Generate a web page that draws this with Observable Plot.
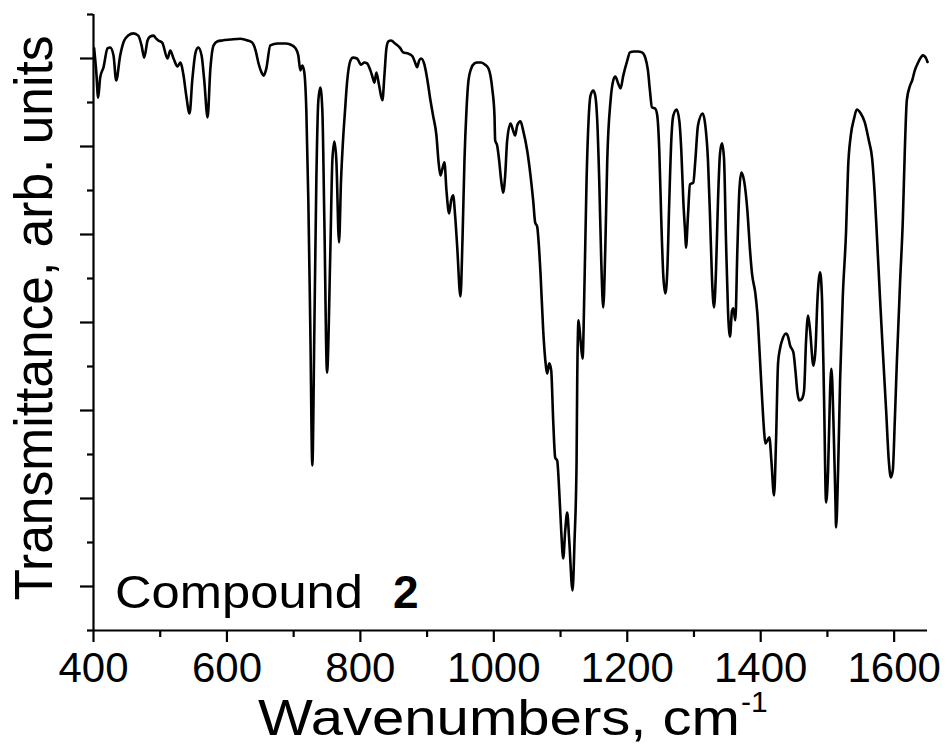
<!DOCTYPE html>
<html>
<head>
<meta charset="utf-8">
<script src="https://cdn.jsdelivr.net/npm/d3@7"></script>
<script src="https://cdn.jsdelivr.net/npm/@observablehq/plot@0.6"></script>
<style>
  html, body { margin: 0; padding: 0; background: #fff; }
  #chart { width: 947px; height: 745px; }
</style>
</head>
<body>
<div id="chart"></div>
<script>
// ---- data (wavenumber in cm^-1, transmittance in arb. units) ----
const wavenumber = [
  401,404,407,410,415,421,425,430,434,440,446,452,460,467,472,476,481,485,490,494,
  497,503,511,515,520,526,530,535,539,544,548,553,557,562,566,571,575,580,586,593,
  605,620,631,638,643,647,652,655,659,665,676,688,695,703,707,710,713,716,719,722,
  725,728,731,734,737,740,743,746,750,755,758,761,764,768,771,774,777,780,785,789,
  795,801,806,810,815,818,821,824,828,833,836,839,842,846,852,860,864,872,878,882,
  885,888,891,896,900,905,909,914,917,920,923,926,929,933,936,939,942,945,950,953,
  956,959,962,966,971,975,981,987,992,995,998,1001,1002,1005,1008,1011,1014,1017,1020,1025,
  1029,1032,1035,1040,1044,1050,1055,1059,1062,1065,1067,1070,1074,1079,1080,1083,1086,1089,1092,1095,
  1098,1101,1104,1107,1110,1113,1118,1121,1124,1125,1127,1130,1133,1136,1139,1142,1145,1149,1152,1155,
  1158,1161,1164,1167,1170,1175,1179,1182,1187,1190,1194,1200,1204,1210,1216,1222,1227,1231,1234,1237,
  1242,1245,1248,1251,1254,1257,1260,1263,1266,1269,1274,1278,1281,1284,1287,1288,1291,1294,1299,1302,
  1306,1313,1317,1321,1324,1327,1330,1333,1336,1339,1342,1345,1348,1351,1354,1357,1359,1362,1365,1368,
  1371,1375,1380,1384,1387,1392,1395,1399,1402,1405,1407,1410,1413,1416,1420,1423,1426,1429,1432,1438,
  1441,1444,1449,1452,1455,1458,1462,1465,1468,1471,1474,1479,1482,1485,1489,1492,1495,1498,1501,1504,
  1506,1509,1512,1513,1516,1519,1523,1528,1531,1535,1540,1544,1550,1556,1562,1567,1571,1574,1579,1583,
  1588,1592,1595,1598,1601,1604,1609,1613,1616,1619,1624,1627,1631,1636,1640,1643,1648,1650
];
const transmittance = [
  13.23,12.73,12.11,12.57,12.80,13.23,13.25,13.07,12.50,13.07,13.41,13.52,13.57,13.52,13.30,13.02,13.41,13.50,13.52,13.45,
  13.41,13.36,13.00,13.18,13.00,12.82,12.91,12.61,12.16,11.75,12.50,13.14,13.25,13.07,12.50,11.66,12.73,13.30,13.39,13.41,
  13.43,13.45,13.41,13.36,13.18,12.91,12.68,12.61,12.77,13.30,13.34,13.34,13.32,13.23,13.07,12.73,12.84,12.68,11.82,9.77,
  6.82,3.75,6.82,10.23,12.05,12.34,11.82,9.32,5.86,8.64,10.68,11.11,10.68,8.82,10.23,11.14,11.82,12.45,12.95,13.02,
  13.00,12.86,12.91,12.89,12.73,12.59,12.45,12.68,12.39,12.05,12.61,13.23,13.39,13.41,13.34,13.23,13.14,13.11,13.05,12.91,
  12.80,12.95,13.00,12.86,12.55,12.05,11.70,11.25,10.68,10.34,10.50,10.64,10.00,9.48,9.77,9.89,9.43,8.75,7.59,8.86,
  10.68,11.82,12.50,12.77,12.89,12.91,12.91,12.86,12.77,12.61,12.27,11.70,11.14,11.02,10.68,10.23,9.95,10.34,11.14,11.52,
  11.36,11.25,11.48,11.57,11.36,10.91,10.34,9.77,9.27,9.18,8.86,8.11,6.82,5.91,5.84,6.07,5.91,4.77,3.93,3.86,
  3.18,2.27,1.64,2.27,2.68,2.05,0.91,2.05,3.80,5.68,7.05,6.59,6.18,7.95,10.23,11.59,12.16,12.27,12.16,11.59,
  10.23,8.41,7.34,8.64,10.68,12.05,12.50,12.59,12.41,12.32,12.61,12.95,13.14,13.16,13.16,13.14,13.02,12.73,12.27,11.89,
  11.86,11.70,10.91,9.32,8.07,7.66,8.18,9.77,11.14,11.70,11.84,11.59,10.91,9.77,8.98,8.70,9.43,10.14,10.18,10.68,
  11.48,11.75,11.48,10.68,9.43,8.00,7.34,8.18,9.77,10.84,11.07,10.73,8.86,7.27,6.68,7.27,7.32,7.05,8.64,10.00,
  10.41,10.23,9.55,8.64,8.11,7.66,7.20,6.14,5.30,4.55,4.25,4.32,4.39,3.86,3.07,4.32,6.07,6.41,6.59,6.75,
  6.68,6.48,6.32,5.91,5.41,5.23,5.27,5.45,6.59,7.16,6.82,6.02,6.36,7.50,8.14,7.50,5.23,2.91,3.64,5.45,
  5.95,4.77,2.95,2.34,3.64,5.68,7.57,9.09,10.52,11.25,11.64,11.84,11.75,11.55,11.14,10.73,9.89,9.02,7.50,6.36,
  5.00,3.86,3.48,3.64,4.77,6.07,7.95,9.32,10.91,12.05,12.39,12.50,12.73,12.91,13.02,13.07,13.00,12.92
];
const xMajorTicks = [400, 600, 800, 1000, 1200, 1400, 1600];
const xMinorTicks = [500, 700, 900, 1100, 1300, 1500];
const yMajorTicks = [1, 3, 5, 7, 9, 11, 13];
const yMinorTicks = [0, 2, 4, 6, 8, 10, 12, 14];
const xDomain = [400, 1650];
const yDomain = [0, 14];
const xTitle = "Wavenumbers, cm";
const xTitleSup = "-1";
const yTitle = "Transmittance, arb. units";
const sampleName = "Compound";
const sampleNumber = "2";

const spectrum = wavenumber.map((w, i) => ({wn: w, t: transmittance[i]}));

const W = 947, H = 745;
const FONT = "Liberation Sans, Arial, Helvetica, sans-serif";

const chart = Plot.plot({
  width: W,
  height: H,
  marginLeft: 93,
  marginRight: 20,
  marginTop: 14,
  marginBottom: 115,
  style: {fontFamily: FONT, background: "#fff", color: "#000", overflow: "visible"},
  x: {domain: xDomain},
  y: {domain: yDomain},
  marks: [
    Plot.axisX({ticks: xMajorTicks, tickSize: 12, tickPadding: 10, strokeWidth: 2.2,
                fontSize: 42, tickFormat: d => String(d), label: null}),
    Plot.axisX({ticks: xMinorTicks, tickSize: 7, strokeWidth: 2.2,
                tickFormat: () => "", label: null}),
    Plot.axisY({ticks: yMajorTicks, tickSize: 13, strokeWidth: 2.2,
                tickFormat: () => "", label: null}),
    Plot.axisY({ticks: yMinorTicks, tickSize: 6, strokeWidth: 2.2,
                tickFormat: () => "", label: null}),
    Plot.ruleY([yDomain[0]], {stroke: "#000", strokeWidth: 2.2}),
    Plot.ruleX([xDomain[0]], {stroke: "#000", strokeWidth: 2.2}),
    Plot.line(spectrum, {x: "wn", y: "t", stroke: "#000", strokeWidth: 2.6,
                         curve: "monotone-x", strokeLinejoin: "round"})
  ]
});

document.getElementById("chart").appendChild(chart);

// ---- titles and annotation ----
const svg = d3.select(chart);
const xt = svg.append("text")
  .attr("x", 258).attr("y", 735)
  .attr("text-anchor", "start")
  .attr("font-family", FONT).attr("font-size", 50).attr("fill", "#000");
xt.append("tspan")
  .attr("textLength", 482).attr("lengthAdjust", "spacingAndGlyphs")
  .text(xTitle);
xt.append("tspan")
  .attr("dx", 1).attr("dy", -23)
  .attr("font-size", 30)
  .text(xTitleSup);

svg.append("text")
  .attr("transform", "translate(52,318) rotate(-90)")
  .attr("text-anchor", "middle")
  .attr("font-family", FONT).attr("font-size", 54).attr("fill", "#000")
  .attr("textLength", 565).attr("lengthAdjust", "spacingAndGlyphs")
  .text(yTitle);

const lab = svg.append("text")
  .attr("x", 115).attr("y", 608)
  .attr("text-anchor", "start")
  .attr("font-family", FONT).attr("font-size", 46).attr("fill", "#000");
lab.append("tspan")
  .attr("textLength", 248).attr("lengthAdjust", "spacingAndGlyphs")
  .text(sampleName);
lab.append("tspan")
  .attr("x", 393)
  .attr("font-weight", "bold")
  .text(sampleNumber);
</script>
</body>
</html>
